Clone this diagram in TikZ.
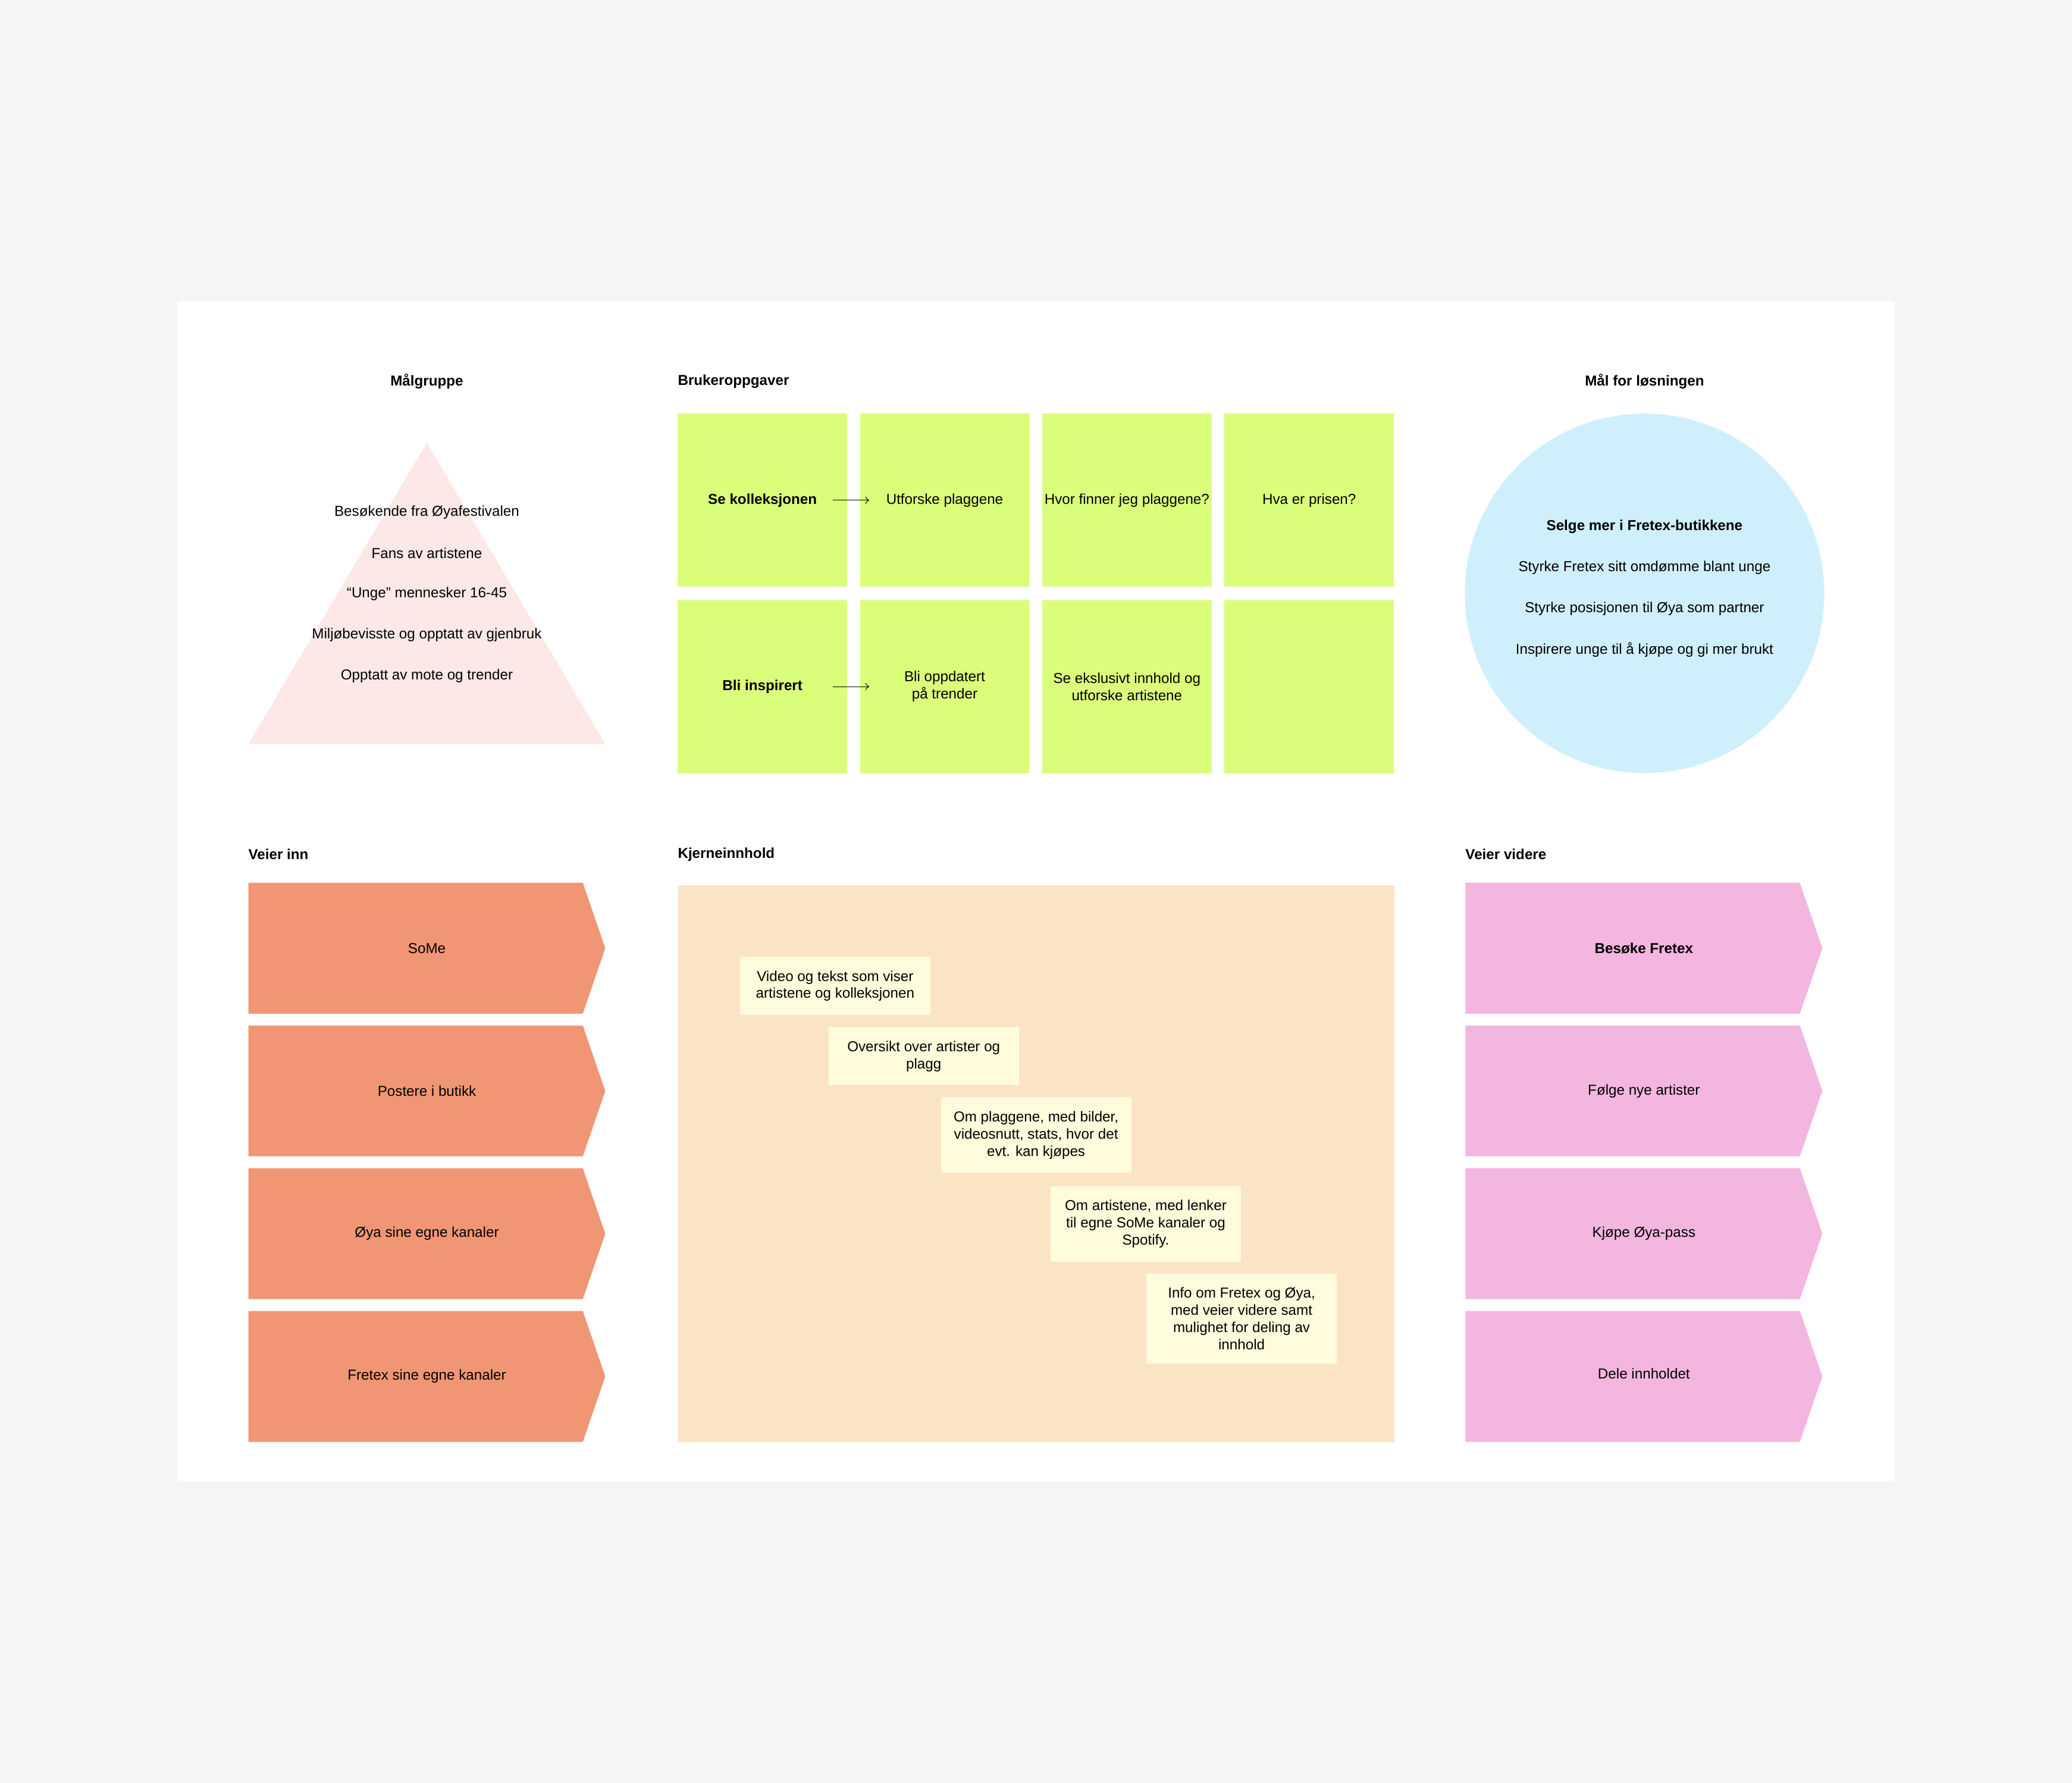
\documentclass[tikz,border=0pt]{standalone}
\usepackage{fontspec}
\setmainfont{Liberation Sans}
\usepackage{tikz}
\usetikzlibrary{arrows.meta, positioning}
\definecolor{canvasgrey}{RGB}{245,245,245}
\definecolor{pyramidpink}{RGB}{251,232,231}
\definecolor{tasklime}{RGB}{218,253,122}
\definecolor{goalblue}{RGB}{207,239,252}
\definecolor{inorange}{RGB}{240,150,116}
\definecolor{corebeige}{RGB}{251,228,197}
\definecolor{noteyellow}{RGB}{255,251,220}
\definecolor{outpink}{RGB}{243,182,222}

\begin{document}
\begin{tikzpicture}[x=0.04cm, y=-0.04cm,
      font=\fontsize{12.4}{14.8}\selectfont,
      every node/.style={inner sep=2pt, outer sep=0pt},
      heading/.style={font=\fontsize{12.4}{14.8}\selectfont\bfseries, inner sep=0pt},
      task/.style={fill=tasklime, minimum width=5.13cm, minimum height=5.24cm, align=center},
      note/.style={fill=noteyellow, minimum width=5.76cm, inner ysep=0.42cm, align=center},
      chevron/.style={fill=white, minimum width=10.8cm, minimum height=3.96cm, align=center,
        path picture={\fill[#1] (path picture bounding box.south west) -- (path picture bounding box.north west)
          -- ([xshift=-0.68cm]path picture bounding box.north east) -- (path picture bounding box.east)
          -- ([xshift=-0.68cm]path picture bounding box.south east) -- cycle;}},
      arr/.style={-{To[length=1.1mm, width=2.2mm]}, line width=0.5pt}
    ]
    \fill[canvasgrey] (0,0) rectangle (1568,1349);
    \fill[white] (134,228) rectangle (1434,1121);

    \node[heading] (hmal) at (323,288.5) {Målgruppe};
    \node[heading, anchor=west] (htask) at (513,288.5) {Brukeroppgaver};
    \node[heading] (hgoal) at (1244.5,288.5) {Mål for løsningen};
    \node[heading, anchor=west] (hin) at (188,646.5) {Veier inn};
    \node[heading, anchor=west] (hcore) at (513,646.5) {Kjerneinnhold};
    \node[heading, anchor=west] (hout) at (1109,646.5) {Veier videre};

    \coordinate (top) at (323,335);
    \coordinate (bl) at (188,563);
    \coordinate (br) at (458,563);
    \fill[pyramidpink] (top) -- (br) -- (bl) -- cycle;
    \foreach \txt [count=\i] in {Besøkende fra Øyafestivalen, Fans av artistene, “Unge” mennesker 16-45,
        Miljøbevisste og opptatt av gjenbruk, Opptatt av mote og trender}
      {\node (mg\i) at (323,356.5+31*\i) {\txt};}

    \node[task] (t11) at (577,378.5) {\textbf{Se kolleksjonen}};
    \node[task, right=0.385cm of t11] (t12) {Utforske plaggene};
    \node[task, right=0.385cm of t12] (t13) {Hvor finner jeg plaggene?};
    \node[task, right=0.385cm of t13] (t14) {Hva er prisen?};
    \node[task, below=0.4cm of t11] (t21) {\textbf{Bli inspirert}};
    \node[task, right=0.385cm of t21] (t22) {Bli oppdatert\\på trender};
    \node[task, right=0.385cm of t22] (t23) {Se ekslusivt innhold og\\utforske artistene};
    \node[task, right=0.385cm of t23] (t24) {};
    \foreach \r in {1,2} {\draw[arr] ([xshift=-0.44cm]t\r1.east) -- ([xshift=0.28cm]t\r2.west);}

    \node[circle, fill=goalblue, minimum size=10.88cm] (goal) at (1244.5,449) {};
    \node[font=\fontsize{12.4}{14.8}\selectfont\bfseries] (g1) at (1244.5,398.5) {Selge mer i Fretex-butikkene};
    \foreach \txt [count=\i from 2] in {Styrke Fretex sitt omdømme blant unge, Styrke posisjonen til Øya som partner,
        Inspirere unge til å kjøpe og gi mer brukt}
      {\node (g\i) at (1244.5,367.5+31*\i) {\txt};}

    \node[chevron=inorange, anchor=north west] (in1) at (188,668) {SoMe};
    \node[chevron=inorange, below=0.36cm of in1] (in2) {Postere i butikk};
    \node[chevron=inorange, below=0.36cm of in2] (in3) {Øya sine egne kanaler};
    \node[chevron=inorange, below=0.36cm of in3] (in4) {Fretex sine egne kanaler};

    \node[fill=corebeige, minimum width=21.68cm, minimum height=16.84cm, anchor=north west] (core) at (513,670) {};
    \node[note, anchor=north west] (c1) at (560,724) {Video og tekst som viser\\artistene og kolleksjonen};
    \node[note, below=0.36cm of c1, xshift=2.68cm] (c2) {Oversikt over artister og\\plagg};
    \node[note, below=0.36cm of c2, xshift=3.4cm] (c3) {Om plaggene, med bilder,\\videosnutt, stats, hvor det\\evt. kan kjøpes};
    \node[note, below=0.4cm of c3, xshift=3.32cm] (c4) {Om artistene, med lenker\\til egne SoMe kanaler og\\Spotify.};
    \node[note, below=0.36cm of c4, xshift=2.9cm] (c5) {Info om Fretex og Øya,\\med veier videre samt\\mulighet for deling av\\innhold};

    \node[chevron=outpink, anchor=north west] (out1) at (1109,668) {\textbf{Besøke Fretex}};
    \node[chevron=outpink, below=0.36cm of out1] (out2) {Følge nye artister};
    \node[chevron=outpink, below=0.36cm of out2] (out3) {Kjøpe Øya-pass};
    \node[chevron=outpink, below=0.36cm of out3] (out4) {\raisebox{0.16cm}{Dele innholdet}};
  \end{tikzpicture}
\end{document}
